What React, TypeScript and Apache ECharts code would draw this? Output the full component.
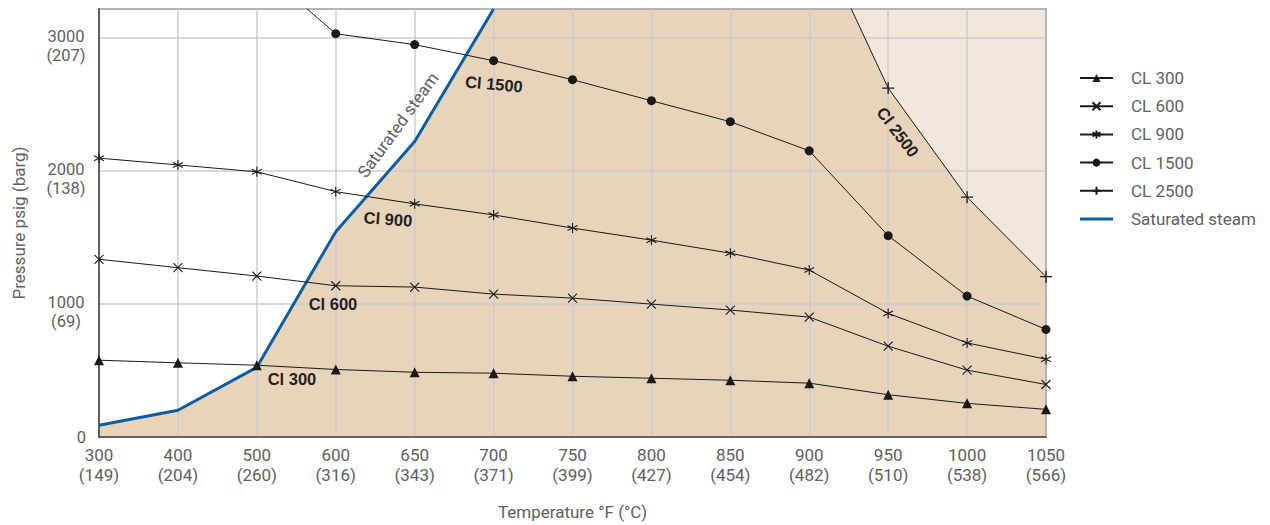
import React, { useEffect, useRef } from "react";
import * as echarts from "echarts";

// Temperature categories
const tempF = [300, 400, 500, 600, 650, 700, 750, 800, 850, 900, 950, 1000, 1050];
const tempC = [149, 204, 260, 316, 343, 371, 399, 427, 454, 482, 510, 538, 566];

// Pressure ratings (psig) per class
const cl300 = [578, 558, 540, 508, 487, 480, 457, 442, 427, 405, 318, 253, 208];
const cl600 = [1337, 1274, 1211, 1138, 1128, 1075, 1045, 1000, 955, 902, 683, 503, 395];
const cl900 = [2098, 2047, 1995, 1846, 1754, 1671, 1572, 1481, 1383, 1256, 930, 708, 585];
const cl1500 = [null, null, 3550, 3034, 2952, 2831, 2688, 2530, 2372, 2153, 1515, 1060, 809];
const cl2500 = [null, null, null, null, null, null, null, null, null, 3900, 2625, 1804, 1206];
const steam = [88, 201, 525, 1545, 2223, 3220, null, null, null, null, null, null, null];

const yTickLabels: Record<number, string[]> = {
  0: ["0"],
  1000: ["1000", "(69)"],
  2000: ["2000", "(138)"],
  3000: ["3000", "(207)"],
};

const Y_MAX = 3220;
const FONT = "Roboto";
const FW = 400;
const FS = 17;
const YFS = 16.5;
const GREY = "#606060";
const INK = "#1a1a1a";

function pairs(arr: (number | null)[]) {
  const out: number[][] = [];
  arr.forEach((v, i) => {
    if (v != null) out.push([i, v]);
  });
  return out;
}

export default function App() {
  const ref = useRef<HTMLDivElement>(null);
  useEffect(() => {
    const chart = echarts.init(ref.current!, null, { renderer: "svg" });

    // Envelope of allowed region: below saturated steam and below CL 2500
    const env: number[][] = [];
    let steamTop = 0;
    steam.forEach((v, i) => {
      if (v != null) {
        env.push([i, Math.min(v, Y_MAX)]);
        steamTop = i;
      }
    });
    for (let i = 1; i < cl2500.length; i++) {
      const a = cl2500[i - 1];
      const b = cl2500[i];
      if (a != null && b != null && a >= Y_MAX && b < Y_MAX) {
        const t = (a - Y_MAX) / (a - b);
        env.push([i - 1 + t, Y_MAX]);
      }
      if (b != null && b < Y_MAX && i > steamTop) env.push([i, b]);
    }
    const lightArea = [
      [steamTop, Y_MAX],
      [tempF.length - 1, Y_MAX],
    ];

    const lineCommon = {
      type: "line",
      z: 5,
      clip: true,
      lineStyle: { color: INK, width: 1 },
    };

    const SYM_X = "path://M0,0L10,10M10,0L0,10";
    const SYM_AST = "path://M5,0L5,10M0.7,2.5L9.3,7.5M9.3,2.5L0.7,7.5";
    const SYM_PLUS = "path://M5,0L5,10M0,5L10,5";

    chart.setOption({
      animation: false,
      textStyle: { fontFamily: FONT, fontWeight: FW },
      grid: {
        left: 99,
        right: 224,
        top: 9,
        bottom: 88,
        show: true,
        borderColor: "#444",
        borderWidth: 1.5,
        backgroundColor: "transparent",
        z: 3,
      },
      legend: {
        orient: "vertical",
        left: 1074,
        top: 63,
        itemWidth: 33,
        itemHeight: 10,
        itemGap: 8.2,
        textStyle: {
          fontSize: FS,
          color: GREY,
          lineHeight: 20,
          padding: [0, 0, 0, 13],
          fontFamily: FONT,
          fontWeight: FW,
        },
        data: [
          "CL 300",
          "CL 600",
          "CL 900",
          "CL 1500",
          "CL 2500",
          { name: "Saturated steam", icon: "path://M0,0L33,0L33,3L0,3Z" },
        ],
      },
      xAxis: {
        type: "value",
        min: 0,
        max: tempF.length - 1,
        interval: 1,
        z: 3,
        name: "Temperature °F (°C)",
        nameLocation: "middle",
        nameGap: 66,
        nameTextStyle: { fontSize: FS, color: GREY, fontFamily: FONT, fontWeight: FW },
        axisLine: { show: true, lineStyle: { color: "#444", width: 1.5 } },
        axisTick: { show: false },
        splitLine: { show: true, lineStyle: { color: "#cdcdcd", width: 1.5 } },
        axisLabel: {
          fontSize: FS,
          color: GREY,
          lineHeight: 20,
          margin: 8,
          fontFamily: FONT,
          fontWeight: FW,
          formatter: (v: number) => `${tempF[v]}\n(${tempC[v]})`,
        },
      },
      yAxis: {
        type: "value",
        min: 0,
        max: Y_MAX,
        interval: 1000,
        z: 3,
        name: "Pressure psig (barg)",
        nameLocation: "middle",
        nameGap: 72,
        nameTextStyle: { fontSize: FS, color: GREY, fontFamily: FONT, fontWeight: FW },
        axisLine: { show: true, lineStyle: { color: "#444", width: 1.5 } },
        axisTick: { show: false },
        splitLine: { show: true, lineStyle: { color: "#cdcdcd", width: 1.5 } },
        axisLabel: {
          margin: 13,
          color: GREY,
          fontSize: YFS,
          fontFamily: FONT,
          fontWeight: FW,
          formatter: (v: number) => {
            const lab = yTickLabels[v];
            if (!lab) return "";
            if (lab.length === 1) return `{z|${lab[0]}}`;
            return `{s| }\n{v|${lab[0]}}\n{v|${lab[1]}}`;
          },
          rich: {
            s: { lineHeight: 15.5, fontSize: 8 },
            v: { lineHeight: 19.5, fontSize: YFS, width: 40, align: "center", color: GREY, fontFamily: FONT, fontWeight: FW },
            z: { lineHeight: 19.5, fontSize: YFS, color: GREY, fontFamily: FONT, fontWeight: FW },
          },
        },
      },
      graphic: [
        {
          type: "text",
          x: 398,
          y: 125,
          rotation: (54 * Math.PI) / 180,
          z: 10,
          style: {
            text: "Saturated steam",
            fontSize: FS,
            fontFamily: FONT,
            fontWeight: FW,
            fill: GREY,
            align: "center",
            verticalAlign: "middle",
          },
        },
        ...[
          { t: "Cl 300", x: 292, y: 379, r: 0 },
          { t: "Cl 600", x: 333, y: 304, r: 0 },
          { t: "Cl 900", x: 388, y: 219, r: -4 },
          { t: "Cl 1500", x: 494, y: 84, r: -5 },
          { t: "Cl 2500", x: 898, y: 132, r: -53 },
        ].map((d) => ({
          type: "text",
          x: d.x,
          y: d.y,
          rotation: (d.r * Math.PI) / 180,
          z: 10,
          style: {
            text: d.t,
            fontSize: 16.5,
            fontWeight: "bold",
            fontFamily: "Liberation Sans",
            fill: "#222",
            align: "center",
            verticalAlign: "middle",
          },
        })),
      ],
      series: [
        {
          name: "light",
          type: "line",
          data: lightArea,
          symbol: "none",
          silent: true,
          z: 1,
          lineStyle: { width: 0, opacity: 0 },
          areaStyle: { color: "#f3e7dc", opacity: 1 },
        },
        {
          name: "region",
          type: "line",
          data: env,
          symbol: "none",
          silent: true,
          z: 2,
          lineStyle: { width: 0, opacity: 0 },
          areaStyle: { color: "#e8d4bb", opacity: 1 },
        },
        {
          ...lineCommon,
          name: "CL 300",
          data: pairs(cl300),
          symbol: "triangle",
          symbolSize: 10,
          itemStyle: { color: INK },
        },
        {
          ...lineCommon,
          name: "CL 600",
          data: pairs(cl600),
          symbol: SYM_X,
          symbolSize: 9,
          itemStyle: { color: INK, borderColor: INK, borderWidth: 1.1 },
        },
        {
          ...lineCommon,
          name: "CL 900",
          data: pairs(cl900),
          symbol: SYM_AST,
          symbolSize: 10,
          itemStyle: { color: INK, borderColor: INK, borderWidth: 1.1 },
        },
        {
          ...lineCommon,
          name: "CL 1500",
          data: pairs(cl1500),
          symbol: "circle",
          symbolSize: 9,
          itemStyle: { color: INK },
        },
        {
          ...lineCommon,
          name: "CL 2500",
          data: pairs(cl2500),
          symbol: SYM_PLUS,
          symbolSize: 12,
          itemStyle: { color: INK, borderColor: INK, borderWidth: 1.3 },
        },
        {
          name: "Saturated steam",
          type: "line",
          data: pairs(steam),
          symbol: "none",
          z: 4,
          clip: true,
          lineStyle: { color: "#0b5ea3", width: 3 },
          itemStyle: { color: "#0b5ea3" },
        },
      ],
    });
    return () => chart.dispose();
  }, []);
  return (
    <div
      ref={ref}
      style={{ position: "fixed", left: 0, top: 0, width: 1270, height: 525, background: "#fff" }}
    />
  );
}
